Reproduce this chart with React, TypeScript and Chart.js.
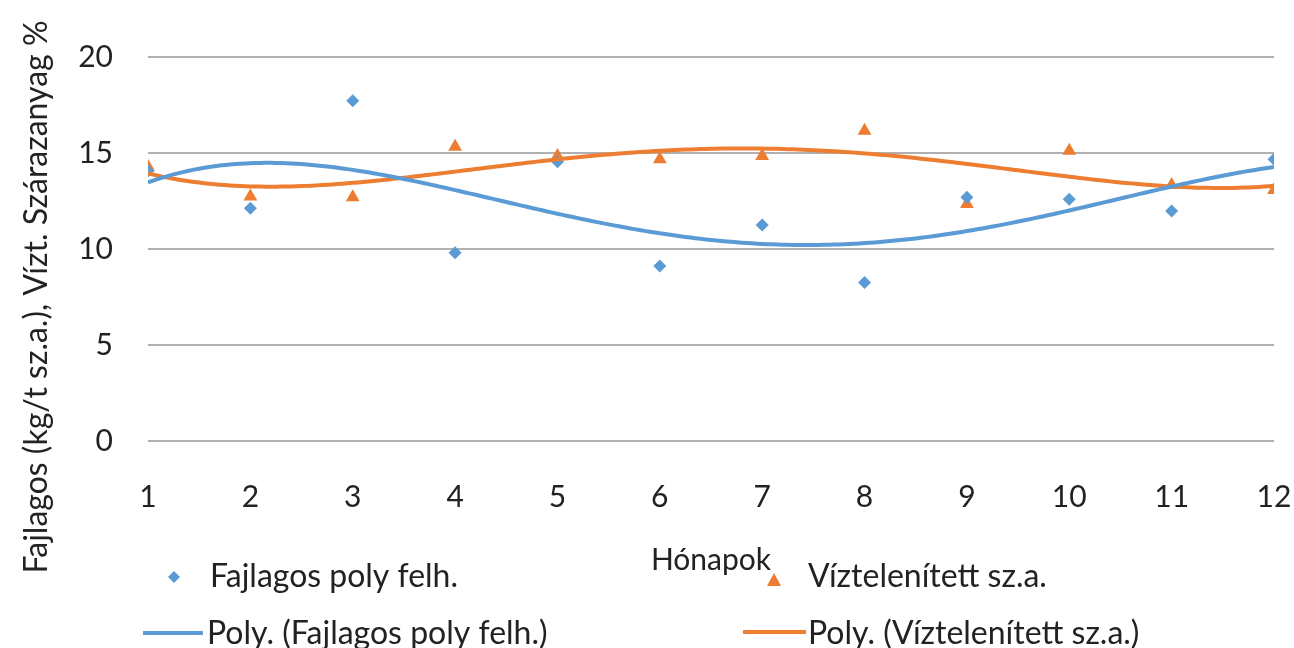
import React, { useEffect, useRef } from "react";
import { Chart, registerables } from "chart.js";

Chart.register(...registerables);

// Months on the x axis
const months = [1, 2, 3, 4, 5, 6, 7, 8, 9, 10, 11, 12];
// Specific polymer consumption (kg/t dry matter)
const polyUse = [14.06, 12.12, 17.72, 9.81, 14.55, 9.11, 11.25, 8.26, 12.69, 12.59, 11.98, 14.67];
// Dewatered dry matter (%)
const dewatered = [14.29, 12.73, 12.69, 15.33, 14.84, 14.67, 14.84, 16.16, 12.34, 15.12, 13.33, 13.07];

const yTicks = [0, 5, 10, 15, 20];
const seriesNames = ["Fajlagos poly felh.", "Víztelenített sz.a."];
const trendNames = ["Poly. (Fajlagos poly felh.)", "Poly. (Víztelenített sz.a.)"];
const xTitle = "Hónapok";
const yTitle = "Fajlagos (kg/t sz.a.), Vízt. Szárazanyag %";

// Order of the polynomial trendlines
const TREND_ORDER = 4;

const BLUE = "#5B9BD5";
const ORANGE = "#ED7D31";
const TEXT = "#222222";
const FONT = "Lato, 'Open Sans', sans-serif";

// Least-squares polynomial trendline
function polyFit(xs: number[], ys: number[], order: number) {
  const c = 6.5;
  const s = 5.5;
  const n = order + 1;
  const A: number[][] = Array.from({ length: n }, () => new Array(n + 1).fill(0));
  xs.forEach((x, i) => {
    const t = (x - c) / s;
    const p: number[] = [];
    for (let k = 0; k < n; k++) p.push(Math.pow(t, k));
    for (let r = 0; r < n; r++) {
      for (let q = 0; q < n; q++) A[r][q] += p[r] * p[q];
      A[r][n] += p[r] * ys[i];
    }
  });
  for (let col = 0; col < n; col++) {
    let piv = col;
    for (let r = col + 1; r < n; r++) if (Math.abs(A[r][col]) > Math.abs(A[piv][col])) piv = r;
    [A[col], A[piv]] = [A[piv], A[col]];
    for (let r = 0; r < n; r++) {
      if (r === col) continue;
      const f = A[r][col] / A[col][col];
      for (let q = col; q <= n; q++) A[r][q] -= f * A[col][q];
    }
  }
  const coef = A.map((row, i) => row[n] / row[i]);
  return (x: number) => {
    const t = (x - c) / s;
    let v = 0;
    for (let k = n - 1; k >= 0; k--) v = v * t + coef[k];
    return v;
  };
}

// Sample the fitted curve across the month range
function trendPoints(ys: number[], order: number) {
  const f = polyFit(months, ys, order);
  const pts: { x: number; y: number }[] = [];
  const x0 = months[0];
  const x1 = months[months.length - 1];
  const steps = 220;
  for (let i = 0; i <= steps; i++) {
    const x = x0 + ((x1 - x0) * i) / steps;
    pts.push({ x, y: f(x) });
  }
  return pts;
}

// Rotated y title and the two-column legend under the plot
const chartDecor = {
  id: "chartDecor",
  afterDraw(chart: any) {
    const ctx = chart.ctx;
    ctx.save();
    ctx.fillStyle = TEXT;
    ctx.textBaseline = "alphabetic";
    ctx.textAlign = "left";

    ctx.save();
    ctx.translate(47, 297);
    ctx.rotate(-Math.PI / 2);
    ctx.textAlign = "center";
    ctx.font = `32px ${FONT}`;
    ctx.fillText(yTitle, 0, 0, 557);
    ctx.restore();

    ctx.font = `32px ${FONT}`;
    ctx.fillText(seriesNames[0], 210, 587, 248);
    ctx.fillText(seriesNames[1], 808, 587, 240);
    ctx.fillText(trendNames[0], 207, 644, 350);
    ctx.fillText(trendNames[1], 808, 644, 340);

    ctx.fillStyle = BLUE;
    ctx.beginPath();
    ctx.moveTo(174, 571);
    ctx.lineTo(180, 577);
    ctx.lineTo(174, 583);
    ctx.lineTo(168, 577);
    ctx.closePath();
    ctx.fill();

    ctx.fillStyle = ORANGE;
    ctx.beginPath();
    ctx.moveTo(774, 573);
    ctx.lineTo(781, 586);
    ctx.lineTo(767, 586);
    ctx.closePath();
    ctx.fill();

    ctx.lineWidth = 4;
    ctx.strokeStyle = BLUE;
    ctx.beginPath();
    ctx.moveTo(143, 633);
    ctx.lineTo(203, 633);
    ctx.stroke();
    ctx.strokeStyle = ORANGE;
    ctx.beginPath();
    ctx.moveTo(743, 632);
    ctx.lineTo(806, 632);
    ctx.stroke();
    ctx.restore();
  },
};

export default function App() {
  const ref = useRef<HTMLCanvasElement | null>(null);

  useEffect(() => {
    if (!ref.current) return;
    const chart = new Chart(ref.current, {
      type: "scatter",
      data: {
        datasets: [
          {
            label: trendNames[0],
            data: trendPoints(polyUse, TREND_ORDER),
            showLine: true,
            borderColor: BLUE,
            borderWidth: 4,
            pointRadius: 0,
            tension: 0,
            order: 1,
          },
          {
            label: trendNames[1],
            data: trendPoints(dewatered, TREND_ORDER),
            showLine: true,
            borderColor: ORANGE,
            borderWidth: 4,
            pointRadius: 0,
            tension: 0,
            order: 1,
          },
          {
            label: seriesNames[0],
            data: months.map((m, i) => ({ x: m, y: polyUse[i] })),
            pointStyle: "rectRot",
            pointRadius: 6.5,
            backgroundColor: BLUE,
            borderWidth: 0,
            order: 2,
          },
          {
            label: seriesNames[1],
            data: months.map((m, i) => ({ x: m, y: dewatered[i] })),
            pointStyle: "triangle",
            pointRadius: 8,
            backgroundColor: ORANGE,
            borderWidth: 0,
            order: 2,
          },
        ],
      },
      options: {
        animation: false,
        responsive: false,
        maintainAspectRatio: false,
        layout: { padding: { left: 0, right: 20, top: 57, bottom: 0 } },
        plugins: { legend: { display: false }, tooltip: { enabled: false } },
        scales: {
          x: {
            type: "linear",
            min: months[0],
            max: months[months.length - 1],
            afterBuildTicks: (scale: any) => {
              scale.ticks = months.map((v) => ({ value: v }));
            },
            ticks: { font: { family: FONT, size: 30 }, color: TEXT, padding: 38 },
            grid: { display: false, drawTicks: false },
            border: { display: false },
            title: {
              display: true,
              text: xTitle,
              font: { family: FONT, size: 30 },
              color: TEXT,
              padding: { top: 0, bottom: 70 },
            },
            afterFit: (scale: any) => {
              scale.height = 207;
              scale.paddingLeft = 0;
              scale.paddingRight = 0;
            },
          },
          y: {
            min: 0,
            max: 20,
            afterBuildTicks: (scale: any) => {
              scale.ticks = yTicks.map((v) => ({ value: v }));
            },
            ticks: { font: { family: FONT, size: 30 }, color: TEXT, padding: 35 },
            grid: { color: "#b0b0b0", lineWidth: 2, drawTicks: false },
            border: { display: false },
            afterFit: (scale: any) => {
              scale.width = 148;
              scale.paddingTop = 0;
              scale.paddingBottom = 0;
            },
          },
        },
      },
      plugins: [chartDecor],
    });
    return () => chart.destroy();
  }, []);

  return (
    <div style={{ position: "fixed", left: 0, top: 0, width: 1294, height: 648, background: "#fff" }}>
      <canvas ref={ref} width={1294} height={648} style={{ width: 1294, height: 648 }} />
    </div>
  );
}
